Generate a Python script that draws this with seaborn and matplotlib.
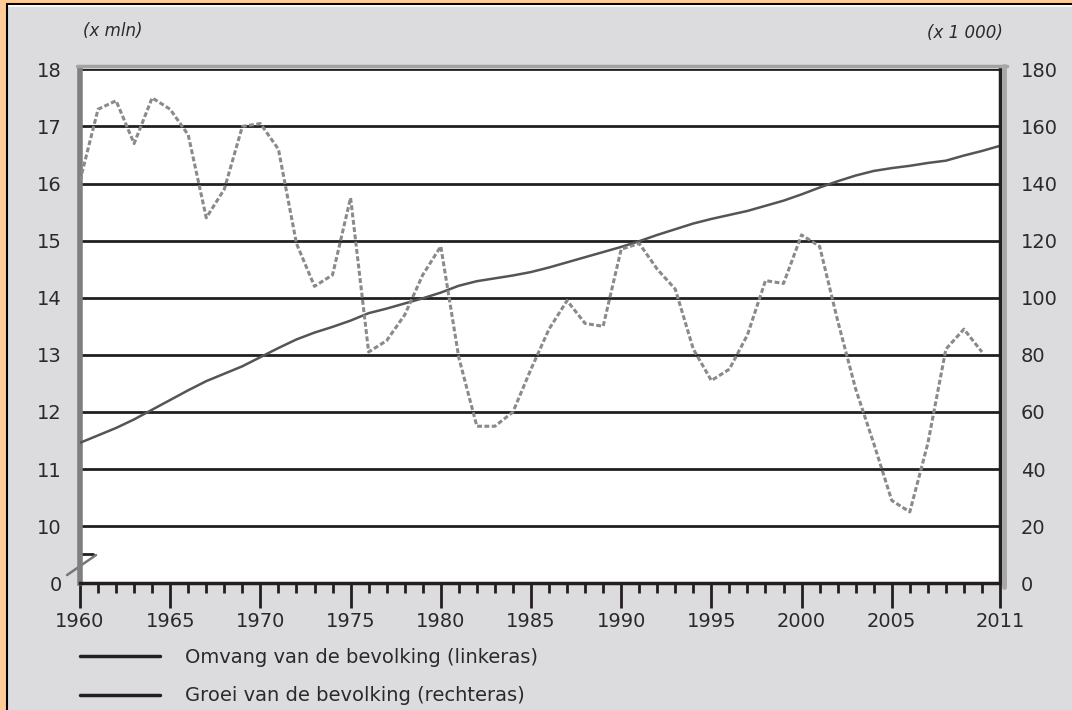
import matplotlib
matplotlib.use("Agg")
import matplotlib.pyplot as plt
import seaborn as sns
import pandas as pd
from matplotlib.lines import Line2D
from matplotlib.patches import Rectangle

# Data
years_pop = list(range(1960, 2012))
population = [11.46, 11.59, 11.72, 11.87, 12.04, 12.21, 12.38, 12.54, 12.67, 12.80,
              12.96, 13.12, 13.27, 13.39, 13.49, 13.60, 13.73, 13.81, 13.90, 13.99,
              14.09, 14.21, 14.29, 14.34, 14.39, 14.45, 14.53, 14.62, 14.71, 14.80,
              14.89, 14.99, 15.10, 15.20, 15.30, 15.38, 15.45, 15.52, 15.61, 15.70,
              15.81, 15.93, 16.04, 16.14, 16.22, 16.27, 16.31, 16.36, 16.40, 16.49,
              16.57, 16.66]

years_growth = list(range(1960, 2011))
growth = [141, 166, 169, 154, 170, 166, 157, 128, 138, 160,
          161, 152, 119, 104, 108, 135, 81, 85, 94, 108,
          118, 79, 55, 55, 60, 75, 89, 99, 91, 90,
          117, 119, 110, 103, 82, 71, 75, 87, 106, 105,
          122, 118, 92, 68, 49, 29, 25, 49, 82, 89, 81]

left_ticks = [9, 10, 11, 12, 13, 14, 15, 16, 17, 18]
left_labels = ["0", "10", "11", "12", "13", "14", "15", "16", "17", "18"]
right_ticks = [0, 20, 40, 60, 80, 100, 120, 140, 160, 180]
x_major = [1960, 1965, 1970, 1975, 1980, 1985, 1990, 1995, 2000, 2005, 2011]
legend_labels = ["Omvang van de bevolking (linkeras)", "Groei van de bevolking (rechteras)"]

df_pop = pd.DataFrame({"jaar": years_pop, "omvang": population})
df_growth = pd.DataFrame({"jaar": years_growth, "groei": growth})

sns.set_style("white")
plt.rcParams["font.family"] = ["DejaVu Sans"]

W, H = 1072, 710
fig = plt.figure(figsize=(W / 100, H / 100), dpi=100, facecolor="#dcdcde")
ax = fig.add_axes([80 / W, 1 - 583.3 / H, 920 / W, 514 / H])
ax.set_facecolor("white")
ax2 = ax.twinx()

# population (left axis) and growth (right axis)
sns.lineplot(data=df_pop, x="jaar", y="omvang", ax=ax, color="#555555", linewidth=1.8, zorder=3)
sns.lineplot(data=df_growth, x="jaar", y="groei", ax=ax2, color="#8a8a8a", linewidth=2.2,
             linestyle=(0, (1.6, 0.8)))

ax.set_xlim(1960, 2011)
ax.set_ylim(9, 18)
ax2.set_ylim(0, 180)
ax.set_xlabel("")
ax.set_ylabel("")
ax2.set_ylabel("")

ax.set_yticks(left_ticks)
ax.set_yticklabels(left_labels)
ax2.set_yticks(right_ticks)
ax.set_xticks(x_major)
ax.set_xticks(years_pop, minor=True)

ax.grid(axis="y", color="#231f20", linewidth=2.0)
ax.grid(axis="x", visible=False)
ax.set_axisbelow(True)

lab_color = "#2a2a2a"
ax.tick_params(axis="x", which="major", bottom=True, direction="out", length=18, width=2,
               color="#231f20", pad=3, labelsize=14, labelcolor=lab_color)
ax.tick_params(axis="x", which="minor", bottom=True, direction="out", length=7, width=2,
               color="#231f20")
ax.tick_params(axis="y", length=0, pad=13, labelsize=14, labelcolor=lab_color)
ax2.tick_params(axis="y", length=0, pad=15, labelsize=14, labelcolor=lab_color)

for s in ["top", "right"]:
    ax.spines[s].set_visible(False)
ax.spines["left"].set_color("#7f7f7f")
ax.spines["left"].set_linewidth(4)
ax.spines["bottom"].set_color("#231f20")
ax.spines["bottom"].set_linewidth(2.5)
for s in ["top", "left", "bottom"]:
    ax2.spines[s].set_visible(False)
ax2.spines["right"].set_color("#231f20")
ax2.spines["right"].set_linewidth(2.5)

# axis break mark at lower left
ax.add_line(Line2D([0, 0.014], [0.057, 0.057], transform=ax.transAxes, color="#231f20",
                   linewidth=2, clip_on=False))
ax.add_line(Line2D([0.0174, -0.0141], [0.055, 0.016], transform=ax.transAxes, color="#777777",
                   linewidth=1.8, clip_on=False))

# frame decoration: shadows and orange border
fig.add_artist(Line2D([77 / W, 1007 / W], [1 - 66 / H] * 2, color="#a2a2a2", linewidth=2.5))
fig.add_artist(Line2D([1004 / W] * 2, [1 - 66 / H, 1 - 587 / H], color="#a8a8a8", linewidth=3.5))
fig.add_artist(Rectangle((0, 1 - 3 / H), 1, 3 / H, transform=fig.transFigure,
                         facecolor="#ffcc99", edgecolor="none"))
fig.add_artist(Rectangle((0, 0), 6 / W, 1, transform=fig.transFigure,
                         facecolor="#ffcc99", edgecolor="none"))
fig.add_artist(Line2D([7 / W, 1], [1 - 4 / H] * 2, color="black", linewidth=1.5))
fig.add_artist(Line2D([7 / W, 1], [1 - 6 / H] * 2, color="white", linewidth=1.2))
fig.add_artist(Line2D([7 / W] * 2, [0, 1 - 4 / H], color="black", linewidth=1.5))

# unit labels
fig.text(83 / W, 1 - 31 / H, "(x mln)", ha="left", va="center", style="italic",
         fontsize=12, color=lab_color)
fig.text(1003 / W, 1 - 33 / H, "(x 1 000)", ha="right", va="center", style="italic",
         fontsize=12, color=lab_color)

# legend
handles = [Line2D([], [], color="#231f20", linewidth=2.5),
           Line2D([], [], color="#231f20", linewidth=2.5)]
fig.legend(handles, legend_labels, loc="upper left", bbox_to_anchor=(80 / W, 1 - 648 / H),
           frameon=False, fontsize=14, handlelength=4.1, handletextpad=1.3,
           borderpad=0, borderaxespad=0, labelspacing=1.0, labelcolor=lab_color)

fig.savefig("out.png", dpi=100, facecolor=fig.get_facecolor())
